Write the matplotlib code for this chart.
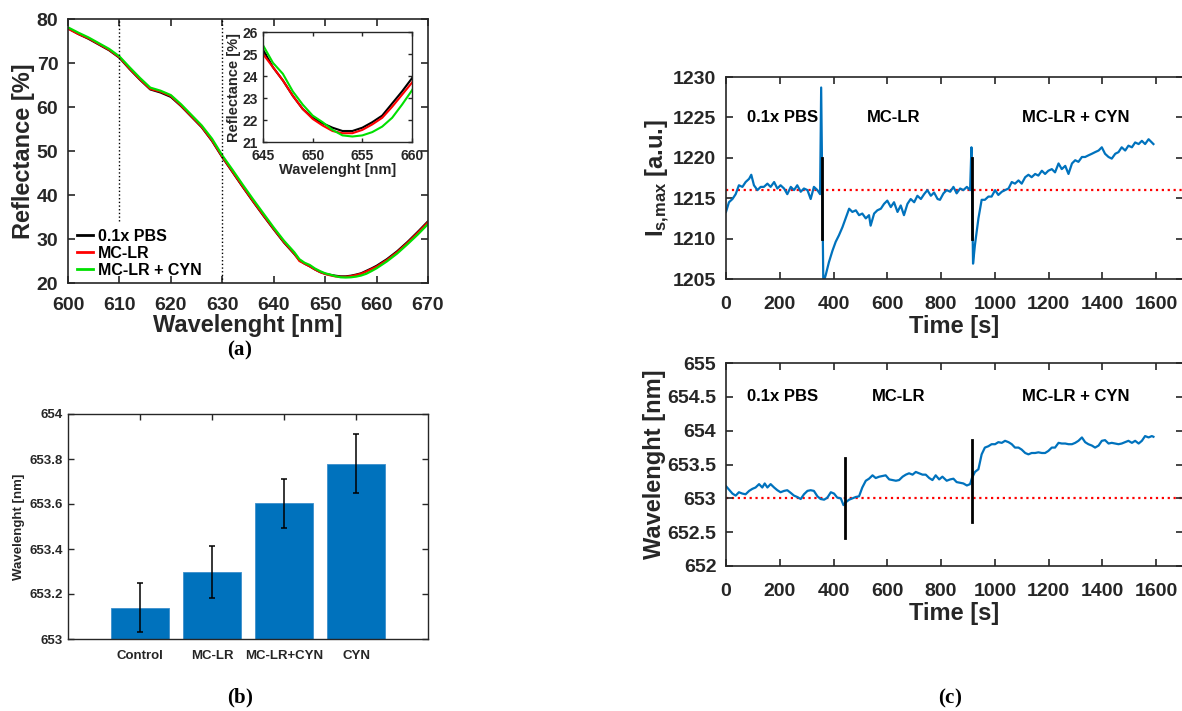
import matplotlib
matplotlib.use("Agg")
import matplotlib.pyplot as plt
from matplotlib.ticker import FormatStrFormatter
import numpy as np

# ---------------- datos ----------------
# (a) reflectancia
wl = [600, 602, 604, 606, 608, 610, 612, 614, 616, 618, 620, 622, 624, 626, 628,
      630, 632, 634, 636, 638, 640, 642, 644, 645, 646, 647, 648, 649, 650, 651,
      652, 653, 654, 655, 656, 657, 658, 659, 660, 662, 664, 666, 668, 670]
refl_pbs = [77.9, 76.6, 75.5, 74.2, 72.9, 71.2, 68.6, 66.2, 64.0, 63.3, 62.3, 60.2, 57.8, 55.4, 52.3,
            48.6, 45.2, 41.8, 38.5, 35.3, 32.2, 29.2, 26.6, 25.2, 24.4, 23.8, 23.1, 22.5, 22.1, 21.85,
            21.65, 21.5, 21.5, 21.65, 21.9, 22.2, 22.75, 23.3, 23.9, 25.4, 27.2, 29.3, 31.6, 34.0]
refl_mclr = [77.8, 76.6, 75.6, 74.3, 73.0, 71.3, 68.7, 66.3, 64.1, 63.5, 62.5, 60.3, 57.9, 55.5, 52.4,
             48.7, 45.3, 41.9, 38.6, 35.4, 32.3, 29.3, 26.7, 25.0, 24.4, 23.8, 23.1, 22.5, 22.05, 21.75,
             21.5, 21.4, 21.4, 21.55, 21.8, 22.1, 22.6, 23.15, 23.7, 25.2, 27.0, 29.1, 31.4, 33.8]
refl_cyn = [78.1, 76.9, 75.8, 74.5, 73.2, 71.5, 69.0, 66.6, 64.4, 63.7, 62.7, 60.6, 58.2, 55.8, 52.8,
            49.0, 45.7, 42.3, 39.0, 35.8, 32.6, 29.6, 27.0, 25.4, 24.6, 24.1, 23.3, 22.7, 22.2, 21.9,
            21.55, 21.3, 21.25, 21.3, 21.45, 21.7, 22.1, 22.7, 23.35, 24.9, 26.7, 28.8, 31.0, 33.4]
series_labels = ["0.1x PBS", "MC-LR", "MC-LR + CYN"]

# (b) barras
categories = ["Control", "MC-LR", "MC-LR+CYN", "CYN"]
bar_values = [653.14, 653.297, 653.603, 653.779]
bar_errors = [0.107, 0.115, 0.108, 0.131]

# (c) arriba: intensidad
t_int = [0, 11, 24, 36, 48, 61, 73, 86, 94, 104, 117, 129, 141, 154, 166, 179, 191, 203, 216, 228,
         241, 253, 265, 278, 290, 303, 315, 327, 340, 350, 354, 362, 371, 383, 396, 408, 420, 433,
         445, 458, 470, 483, 495, 507, 520, 532, 538, 551, 563, 576, 588, 600, 613, 625, 638, 650,
         662, 675, 687, 700, 712, 725, 737, 749, 762, 774, 787, 796, 809, 821, 834, 846, 858, 871,
         883, 896, 908, 913, 919, 926, 939, 951, 963, 976, 988, 1001, 1013, 1026, 1038, 1051, 1063,
         1075, 1088, 1100, 1113, 1125, 1137, 1150, 1162, 1175, 1187, 1199, 1212, 1224, 1237, 1249,
         1262, 1274, 1287, 1299, 1311, 1324, 1336, 1348, 1361, 1373, 1386, 1398, 1410, 1423, 1435,
         1448, 1460, 1472, 1485, 1497, 1510, 1522, 1535, 1547, 1559, 1572, 1584, 1590]
i_int = [1213.3, 1214.5, 1214.9, 1215.5, 1216.6, 1216.4, 1217.0, 1217.4, 1217.9, 1216.6, 1216.0,
         1216.4, 1216.4, 1216.8, 1216.4, 1217.0, 1216.2, 1216.6, 1216.2, 1215.5, 1216.4, 1216.0,
         1216.6, 1215.8, 1216.2, 1216.0, 1214.9, 1216.4, 1216.0, 1215.5, 1228.7, 1204.5, 1205.5,
         1207.1, 1208.5, 1209.6, 1210.4, 1211.4, 1212.5, 1213.7, 1213.3, 1213.5, 1212.9, 1213.1,
         1212.5, 1212.9, 1211.6, 1213.1, 1213.5, 1213.7, 1214.3, 1214.7, 1213.9, 1214.5, 1213.3,
         1214.1, 1212.9, 1214.3, 1214.9, 1214.5, 1215.3, 1214.9, 1215.5, 1216.0, 1215.3, 1215.7,
         1214.9, 1214.8, 1215.6, 1216.0, 1215.8, 1216.4, 1215.6, 1216.2, 1216.0, 1216.4, 1216.0,
         1221.3, 1206.9, 1209.2, 1212.5, 1214.8, 1214.8, 1215.2, 1215.2, 1216.0, 1215.4, 1215.8,
         1216.0, 1216.2, 1217.0, 1216.8, 1217.2, 1216.8, 1217.6, 1217.9, 1217.6, 1218.0, 1217.8,
         1218.4, 1218.0, 1218.4, 1218.6, 1218.2, 1219.3, 1218.6, 1219.0, 1218.0, 1219.3, 1219.7,
         1219.5, 1220.1, 1220.1, 1220.3, 1220.5, 1220.7, 1220.9, 1221.3, 1220.5, 1220.1, 1219.9,
         1220.5, 1220.7, 1221.3, 1220.9, 1221.5, 1221.3, 1221.9, 1221.7, 1222.1, 1221.7, 1222.3,
         1221.9, 1221.7]
int_ref = 1216
int_marks = [358, 914]
int_mark_range = (1210, 1220)

# (c) abajo: longitud de onda
t_wl = [0, 11, 24, 36, 48, 61, 73, 86, 98, 110, 123, 135, 144, 154, 166, 179, 191, 203, 216, 228,
        241, 253, 265, 278, 290, 303, 315, 327, 340, 352, 365, 377, 390, 402, 414, 427, 437, 445,
        458, 470, 483, 495, 507, 520, 532, 545, 557, 570, 582, 594, 607, 619, 632, 644, 657, 669,
        681, 694, 706, 719, 731, 743, 756, 768, 780, 793, 805, 821, 834, 846, 858, 871, 883, 896,
        908, 915, 926, 939, 951, 963, 976, 988, 1001, 1013, 1026, 1038, 1051, 1063, 1075, 1088,
        1100, 1113, 1125, 1137, 1150, 1162, 1175, 1187, 1199, 1212, 1224, 1237, 1249, 1262, 1274,
        1287, 1299, 1311, 1324, 1336, 1348, 1361, 1373, 1386, 1398, 1410, 1423, 1435, 1448, 1460,
        1472, 1485, 1497, 1510, 1522, 1535, 1547, 1559, 1572, 1584, 1590]
w_wl = [653.18, 653.13, 653.07, 653.04, 653.09, 653.07, 653.06, 653.11, 653.14, 653.16, 653.21,
        653.16, 653.22, 653.16, 653.21, 653.16, 653.12, 653.09, 653.11, 653.12, 653.08, 653.04,
        653.02, 652.99, 653.06, 653.11, 653.12, 653.11, 653.03, 652.99, 652.98, 653.01, 653.09,
        653.07, 653.01, 653.00, 652.90, 652.94, 652.98, 653.00, 653.02, 653.03, 653.16, 653.26,
        653.29, 653.34, 653.30, 653.32, 653.33, 653.34, 653.28, 653.27, 653.26, 653.27, 653.32,
        653.35, 653.37, 653.35, 653.39, 653.37, 653.35, 653.35, 653.30, 653.27, 653.34, 653.28,
        653.32, 653.26, 653.28, 653.29, 653.24, 653.23, 653.22, 653.19, 653.21, 653.30, 653.39,
        653.43, 653.65, 653.75, 653.77, 653.80, 653.80, 653.83, 653.82, 653.85, 653.83, 653.80,
        653.75, 653.75, 653.72, 653.67, 653.65, 653.67, 653.67, 653.68, 653.67, 653.67, 653.70,
        653.75, 653.75, 653.82, 653.81, 653.81, 653.80, 653.80, 653.82, 653.85, 653.90, 653.83,
        653.80, 653.78, 653.75, 653.78, 653.85, 653.86, 653.81, 653.82, 653.81, 653.80, 653.81,
        653.83, 653.85, 653.82, 653.85, 653.81, 653.85, 653.92, 653.90, 653.92, 653.91]
wl_ref = 653
wl_marks = [441, 915]
wl_mark_ranges = [(652.42, 653.60), (652.65, 653.86)]

phase_labels = ["0.1x PBS", "MC-LR", "MC-LR + CYN"]

# ---------------- estilo ----------------
plt.rcParams['font.family'] = ['Liberation Sans', 'DejaVu Sans']
plt.rcParams['font.weight'] = 'bold'
plt.rcParams['axes.labelweight'] = 'bold'
plt.rcParams['mathtext.fontset'] = 'custom'
plt.rcParams['mathtext.rm'] = 'Liberation Serif'
plt.rcParams['mathtext.bf'] = 'Liberation Serif:bold'
plt.rcParams['mathtext.sf'] = 'Liberation Sans:bold'

dark = '#262626'
blue = '#0072BD'
W, H = 1182, 711


def frame(ax, fs, lw=1.2, length=5, xpad=3.5, ypad=3.5):
    for s in ax.spines.values():
        s.set_linewidth(lw)
        s.set_color(dark)
    ax.tick_params(direction='in', top=True, right=True, labelsize=fs,
                   width=lw, length=length, colors=dark, labelcolor=dark)
    ax.tick_params(axis='x', pad=xpad)
    ax.tick_params(axis='y', pad=ypad)


def rect(l, r, t, b):
    return [l / W, 1 - b / H, (r - l) / W, (b - t) / H]


fig = plt.figure(figsize=(W / 100, H / 100), dpi=100)

# ---------------- (a) ----------------
ax_a = fig.add_axes(rect(68, 428, 19, 283))
colors = ['black', 'red', '#00e000']
for y, c, lab in zip([refl_pbs, refl_mclr, refl_cyn], colors, series_labels):
    ax_a.plot(wl, y, color=c, lw=1.6, label=lab)
ax_a.plot([610, 610], [34, 80], ls=':', color='k', lw=1.0)
ax_a.plot([630, 630], [20, 80], ls=':', color='k', lw=1.0)
ax_a.set_xlim(600, 670)
ax_a.set_ylim(20, 80)
ax_a.set_xticks(np.arange(600, 671, 10))
ax_a.set_yticks(np.arange(20, 81, 10))
frame(ax_a, 14, xpad=10, ypad=7)
ax_a.set_xlabel("Wavelenght [nm]", fontsize=17, labelpad=0, color=dark)
ax_a.set_ylabel("Reflectance [%]", fontsize=17, labelpad=1, color=dark)
leg = ax_a.legend(loc='lower left', bbox_to_anchor=(0.025, 0.02), frameon=False,
                  fontsize=11.5, handlelength=1.0, handletextpad=0.3,
                  labelspacing=0.12, borderpad=0, borderaxespad=0)
for h in leg.get_lines():
    h.set_linewidth(2)

ins = fig.add_axes(rect(263, 412, 32, 142))
for y, c in zip([refl_pbs, refl_mclr, refl_cyn], colors):
    ins.plot(wl, y, color=c, lw=1.5)
ins.set_xlim(645, 660)
ins.set_ylim(21, 26)
ins.set_xticks([645, 650, 655, 660])
ins.set_yticks(np.arange(21, 27, 1))
frame(ins, 10, lw=1.0, length=3, xpad=5, ypad=4)
ins.set_xlabel("Wavelenght [nm]", fontsize=10.5, labelpad=0, color=dark)
ins.set_ylabel("Reflectance [%]", fontsize=10.5, labelpad=1, color=dark)

# ---------------- (b) ----------------
ax_b = fig.add_axes(rect(68, 428, 414, 639))
xpos = np.arange(1, len(categories) + 1)
ax_b.bar(xpos, bar_values, width=0.8, color=blue, edgecolor='#3d8fcc', lw=0.6, zorder=2)
ax_b.errorbar(xpos, bar_values, yerr=bar_errors, fmt='none', ecolor='k',
              elinewidth=1.1, capsize=2, capthick=1.1, zorder=3)
ax_b.set_xlim(0, 5)
ax_b.set_ylim(653, 654)
ax_b.set_xticks(xpos)
ax_b.set_xticklabels(categories)
ax_b.set_yticks(np.arange(653, 654.01, 0.2))
ax_b.yaxis.set_major_formatter(FormatStrFormatter('%g'))
frame(ax_b, 9.5, lw=1.0, length=4, xpad=8, ypad=3.5)
ax_b.set_ylabel("Wavelenght [nm]", fontsize=9.5, labelpad=3, color=dark)

# ---------------- (c) ----------------
ax_c1 = fig.add_axes(rect(726, 1183, 77, 279))
ax_c1.axhline(int_ref, color='red', ls=':', lw=1.6, zorder=1)
ax_c1.plot(t_int, i_int, color=blue, lw=1.6, zorder=2)
for m in int_marks:
    ax_c1.plot([m, m], int_mark_range, color='k', lw=2, zorder=3)
ax_c1.set_xlim(0, 1700)
ax_c1.set_ylim(1205, 1230)
ax_c1.set_xticks(np.arange(0, 1601, 200))
ax_c1.set_yticks(np.arange(1205, 1231, 5))
frame(ax_c1, 14, xpad=12, ypad=7)
ax_c1.set_xlabel("Time [s]", fontsize=17, labelpad=2, color=dark)
ax_c1.set_ylabel(r"$\mathsf{I_{s{,}max}}$ [a.u.]", fontsize=17, labelpad=1, color=dark)
for tx, lab in zip([212, 623, 1302], phase_labels):
    ax_c1.text(tx, 1225, lab, ha='center', va='center', fontsize=12, color='k')

ax_c2 = fig.add_axes(rect(726, 1183, 363, 566))
ax_c2.axhline(wl_ref, color='red', ls=':', lw=1.6, zorder=1)
ax_c2.plot(t_wl, w_wl, color=blue, lw=1.6, zorder=2)
for m, r in zip(wl_marks, wl_mark_ranges):
    ax_c2.plot([m, m], r, color='k', lw=2, zorder=3)
ax_c2.set_xlim(0, 1700)
ax_c2.set_ylim(652, 655)
ax_c2.set_xticks(np.arange(0, 1601, 200))
ax_c2.set_yticks(np.arange(652, 655.01, 0.5))
ax_c2.yaxis.set_major_formatter(FormatStrFormatter('%g'))
frame(ax_c2, 14, xpad=12, ypad=7)
ax_c2.set_xlabel("Time [s]", fontsize=17, labelpad=2, color=dark)
ax_c2.set_ylabel("Wavelenght [nm]", fontsize=17, labelpad=1, color=dark)
for tx, lab in zip([212, 641, 1302], phase_labels):
    ax_c2.text(tx, 654.5, lab, ha='center', va='center', fontsize=12, color='k')

# etiquetas de panel
fig.text(240 / W, 1 - 350 / H, r"$(\mathbf{a})$", ha='center', va='center', fontsize=15)
fig.text(240 / W, 1 - 698 / H, r"$(\mathbf{b})$", ha='center', va='center', fontsize=15)
fig.text(950 / W, 1 - 698 / H, r"$(\mathbf{c})$", ha='center', va='center', fontsize=15)

fig.savefig("out.png", dpi=100, facecolor='white')
